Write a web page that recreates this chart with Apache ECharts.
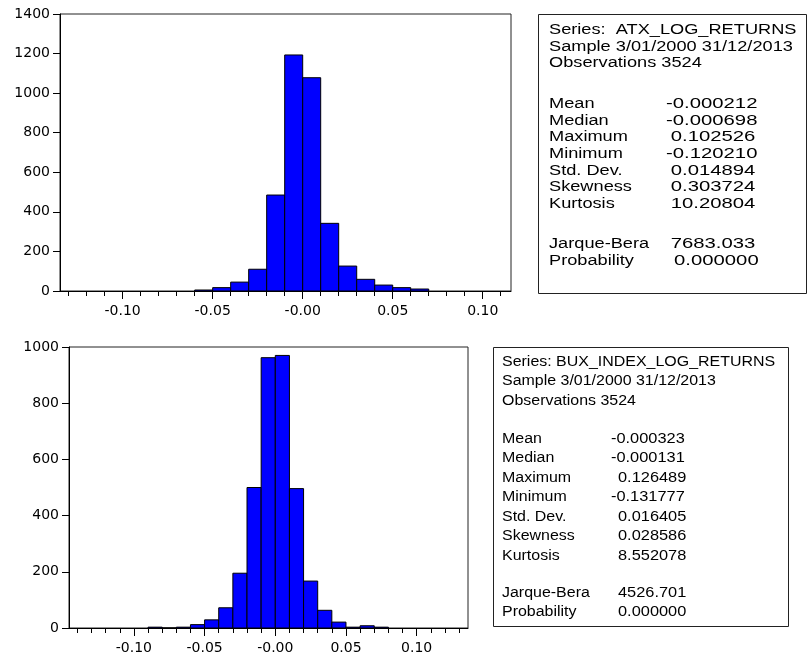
<!DOCTYPE html>
<html>
<head>
<meta charset="utf-8">
<script src="https://cdn.jsdelivr.net/npm/echarts@6/dist/echarts.min.js"></script>
<style>
  html, body { margin: 0; padding: 0; background: #fff; }
  #chart { width: 807px; height: 659px; }
</style>
</head>
<body>
<div id="chart"></div>
<script>
// ---------- DATA ----------
const binWidth = 0.01;
const atxBinLeft = [-0.06, -0.05, -0.04, -0.03, -0.02, -0.01, 0.00, 0.01, 0.02, 0.03, 0.04, 0.05, 0.06];
const atxCounts  = [5, 17, 45, 110, 485, 1193, 1078, 342, 126, 59, 30, 17, 10];
const buxBinLeft = [-0.09, -0.08, -0.07, -0.06, -0.05, -0.04, -0.03, -0.02, -0.01, 0.00, 0.01, 0.02, 0.03, 0.04, 0.05, 0.06, 0.07];
const buxCounts  = [3, 0, 3, 12, 29, 72, 195, 500, 962, 970, 496, 167, 63, 21, 3, 8, 3];

const xMajorTicks = [-0.10, -0.05, 0.00, 0.05, 0.10];
const xTickLabels = ['-0.10', '-0.05', '-0.00', '0.05', '0.10'];
const atxMinorTicks = [-0.13, -0.12, -0.11, -0.10, -0.09, -0.08, -0.07, -0.06, -0.05, -0.04, -0.03, -0.02, -0.01, 0.00, 0.01, 0.02, 0.03, 0.04, 0.05, 0.06, 0.07, 0.08, 0.09, 0.10, 0.11];
const buxMinorTicks = [-0.14, -0.13, -0.12, -0.11, -0.10, -0.09, -0.08, -0.07, -0.06, -0.05, -0.04, -0.03, -0.02, -0.01, 0.00, 0.01, 0.02, 0.03, 0.04, 0.05, 0.06, 0.07, 0.08, 0.09, 0.10, 0.11, 0.12, 0.13];
const atxXRange = [-0.1348, 0.1157];
const buxXRange = [-0.1459, 0.1363];
const atxYMax = 1400;
const buxYMax = 1000;
const yInterval = 200;

const statNames = ['Mean', 'Median', 'Maximum', 'Minimum', 'Std. Dev.', 'Skewness', 'Kurtosis'];
const testNames = ['Jarque-Bera', 'Probability'];
const atxHeader = ['Series:  ATX_LOG_RETURNS', 'Sample 3/01/2000 31/12/2013', 'Observations 3524'];
const atxStats  = ['-0.000212', '-0.000698', '0.102526', '-0.120210', '0.014894', '0.303724', '10.20804'];
const atxTests  = ['7683.033', '0.000000'];
const buxHeader = ['Series: BUX_INDEX_LOG_RETURNS', 'Sample 3/01/2000 31/12/2013', 'Observations 3524'];
const buxStats  = ['-0.000323', '-0.000131', '0.126489', '-0.131777', '0.016405', '0.028586', '8.552078'];
const buxTests  = ['4526.701', '0.000000'];

// ---------- CHART ----------
const chart = echarts.init(document.getElementById('chart'), null, { renderer: 'canvas' });

const axisFont = 'DejaVu Sans';
const boxFont = 'Liberation Sans';

function histData(lefts, counts) {
  return lefts.map((l, i) => [l, l + binWidth, counts[i]]);
}

function renderBar(params, api) {
  const p0 = api.coord([api.value(0), 0]);
  const p1 = api.coord([api.value(1), api.value(2)]);
  return {
    type: 'rect',
    shape: { x: p0[0], y: p1[1], width: p1[0] - p0[0], height: p0[1] - p1[1] },
    style: { fill: '#0000FF', stroke: '#000', lineWidth: 1 }
  };
}

function fmtX(v) {
  const i = xMajorTicks.findIndex(t => Math.abs(t - v) < 1e-9);
  return i >= 0 ? xTickLabels[i] : '';
}

function minorAxis(gridIndex, range, ticks) {
  return {
    type: 'value', gridIndex, position: 'bottom', offset: 0,
    min: range[0], max: range[1],
    axisLine: { show: true, onZero: false, lineStyle: { color: '#000', width: 1 } },
    axisTick: { show: true, length: 5, customValues: ticks, lineStyle: { color: '#000' } },
    axisLabel: { show: false },
    splitLine: { show: false }
  };
}
function majorAxis(gridIndex, range) {
  return {
    type: 'value', gridIndex, position: 'bottom', offset: 0,
    min: range[0], max: range[1],
    axisLine: { show: false, onZero: false },
    axisTick: { show: true, length: 8, customValues: xMajorTicks, lineStyle: { color: '#000' } },
    axisLabel: { show: true, customValues: xMajorTicks, formatter: fmtX, margin: 13,
      color: '#000', fontFamily: axisFont, fontSize: 14 },
    splitLine: { show: false }
  };
}
function yAx(gridIndex, max) {
  return {
    type: 'value', gridIndex, min: 0, max: max, interval: yInterval, position: 'left',
    axisLine: { show: true, onZero: false, lineStyle: { color: '#000' } },
    axisTick: { show: true, length: 7, inside: false, lineStyle: { color: '#000' } },
    axisLabel: { show: true, margin: 10, color: '#000', fontFamily: axisFont, fontSize: 14,
      formatter: v => String(v) },
    splitLine: { show: false }
  };
}

function statBox(x0, y0, w, h, lx, vx, posOff, scaleX, valScaleX, header, hy, hstep, stats, sy, sstep, tests, ty, tstep, probExtra) {
  const els = [{
    type: 'rect', shape: { x: x0, y: y0, width: w, height: h },
    style: { fill: '#fff', stroke: '#222', lineWidth: 1 }, z: 10
  }];
  function txt(t, x, y, sx) {
    els.push({ type: 'text', x: x, y: y, scaleX: sx, z: 11,
      style: { text: t, x: 0, y: 0, fill: '#000', fontFamily: boxFont, fontSize: 14,
        align: 'left', verticalAlign: 'middle' } });
  }
  header.forEach((t, i) => txt(t, lx, hy + i * hstep, scaleX));
  statNames.forEach((t, i) => {
    const y = sy + i * sstep;
    txt(t, lx, y, scaleX);
    const v = stats[i];
    txt(v, v[0] === '-' ? vx : vx + posOff, y, valScaleX);
  });
  testNames.forEach((t, i) => {
    const y = ty + i * tstep;
    txt(t, lx, y, scaleX);
    txt(tests[i], vx + posOff + (i === 1 ? probExtra : 0), y, valScaleX);
  });
  return els;
}

const graphics = []
  .concat(statBox(538.5, 14.5, 268, 279, 549, 666, 4.7, 1.30, 1.45,
    atxHeader, 30, 16.67, atxStats, 104, 16.67, atxTests, 244, 16.67, 3.3))
  .concat(statBox(493.5, 347.5, 295, 279, 502, 611, 7, 1.14, 1.17,
    buxHeader, 362, 19.4, buxStats, 439, 19.5, buxTests, 593, 19.4, 0));

const option = {
  backgroundColor: '#fff',
  animation: false,
  grid: [
    { left: 60, top: 14, width: 451, height: 277, show: true, borderColor: '#222', borderWidth: 1, backgroundColor: 'transparent' },
    { left: 69, top: 347, width: 399, height: 281, show: true, borderColor: '#222', borderWidth: 1, backgroundColor: 'transparent' }
  ],
  xAxis: [
    minorAxis(0, atxXRange, atxMinorTicks),
    majorAxis(0, atxXRange),
    minorAxis(1, buxXRange, buxMinorTicks),
    majorAxis(1, buxXRange)
  ],
  yAxis: [ yAx(0, atxYMax), yAx(1, buxYMax) ],
  series: [
    { type: 'custom', xAxisIndex: 0, yAxisIndex: 0, renderItem: renderBar,
      encode: { x: [0, 1], y: 2 }, data: histData(atxBinLeft, atxCounts) },
    { type: 'custom', xAxisIndex: 2, yAxisIndex: 1, renderItem: renderBar,
      encode: { x: [0, 1], y: 2 }, data: histData(buxBinLeft, buxCounts) }
  ],
  graphic: { elements: graphics }
};
chart.setOption(option);
</script>
</body>
</html>
